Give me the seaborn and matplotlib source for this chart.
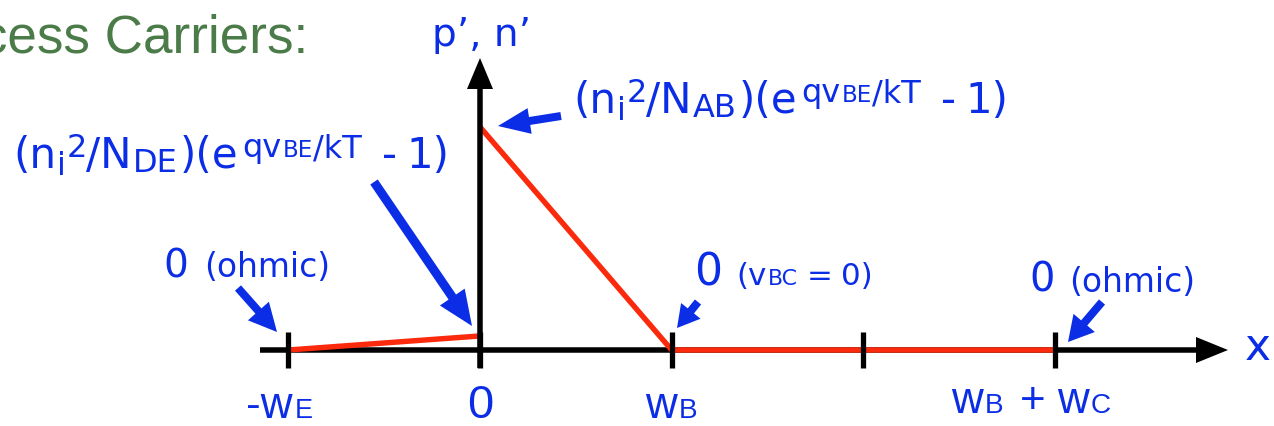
import matplotlib
matplotlib.use("Agg")
import matplotlib.pyplot as plt
import matplotlib.transforms as mtransforms
from matplotlib.patches import FancyArrowPatch
import pandas as pd
import seaborn as sns

# ---- data: excess minority carrier profile across emitter / base / collector ----
x_emitter = [-1.0, 0.0]          # -wE .. 0
p_emitter = [0.0, 0.063]         # p'(x) in the emitter
x_base = [0.0, 1.0, 3.0]         # 0 .. wB .. wB + wC
n_base = [1.0, 0.0, 0.0]         # n'(x) in base, then collector
tick_pos = [-1, 0, 1, 2, 3]

sns.set_theme(style="white")
plt.rcParams["font.family"] = ["Liberation Sans", "DejaVu Sans"]
WIDE = ["DejaVu Sans"]
NARROW = ["Liberation Sans", "DejaVu Sans"]

BLUE = "#0b2de6"
RED = "#fb2a0c"
GREEN = "#4b7b49"

W, H = 1274, 426
fig = plt.figure(figsize=(W / 100, H / 100), dpi=100)
ax = fig.add_axes([0, 0, 1, 1])

# pixel <-> data helpers (origin of the diagram and unit lengths)
X0, Y0 = 480.0, 350.0
SX, SY = 191.67, 223.0


def dx(px):
    return (px - X0) / SX


def dy(py):
    return (Y0 - py) / SY


ax.set_xlim(dx(0), dx(W))
ax.set_ylim(dy(H), dy(0))
ax.axis("off")


def arrow(p0, p1, tail, head_w, head_l, color, z):
    a = FancyArrowPatch((dx(p0[0]), dy(p0[1])), (dx(p1[0]), dy(p1[1])),
                        arrowstyle=f"simple,tail_width={tail * 0.72},"
                                   f"head_width={head_w * 0.72},head_length={head_l * 0.72}",
                        mutation_scale=1, color=color, lw=0,
                        shrinkA=0, shrinkB=0, zorder=z)
    ax.add_patch(a)


# ---- axes drawn as arrows, carrier profile, ticks ----
arrow((260, Y0), (1228, Y0), 5.5, 26, 32, "black", 1.5)
arrow((X0, 368), (X0, 58), 5.5, 26, 31, "black", 3)

df_e = pd.DataFrame({"x": x_emitter, "c": p_emitter})
df_b = pd.DataFrame({"x": x_base, "c": n_base})
for df in (df_e, df_b):
    sns.lineplot(data=df, x="x", y="c", color=RED, lw=3.9, ax=ax, sort=False,
                 estimator=None, zorder=2, solid_capstyle="butt")

ax.vlines(tick_pos, dy(368), dy(332), colors="black", lw=3.8, zorder=3)

# ---- rich text built from pieces: (text, size_px, rise_px, gap_px) ----
renderer = fig.canvas.get_renderer()


def rich(x_px, y_px, pieces, family=WIDE, color=BLUE):
    offset = 0.0
    for s, size_px, rise, gap in pieces:
        offset += gap
        tr = mtransforms.offset_copy(ax.transData, fig=fig, x=offset, y=rise, units="dots")
        t = ax.text(dx(x_px), dy(y_px), s, fontsize=size_px * 0.72, color=color,
                    family=family, transform=tr, ha="left", va="baseline", zorder=5)
        offset += t.get_window_extent(renderer).width


def formula(sub):
    M, S, T = 42, 32, 23
    return [("(n", M, 0, 0), ("i", S, -7, 1), ("2", S, 11, 1), ("/N", M, 0, -1),
            (sub, S, -4, 1), (")(e", M, 0, 2), ("qv", S, 11, 4), ("BE", T, 11, 1),
            ("/kT", S, 11, 0), ("-", M, 0, 20), ("1)", M, 0, 10)]


# title fragment and axis names
ax.text(dx(308), dy(52), "Excess Carriers:", fontsize=53 * 0.72, color=GREEN,
        family=NARROW, ha="right", va="baseline")
rich(432, 46, [("p\u2019, n\u2019", 39, 0, 0)])
rich(1245, 360, [("x", 44, 0, 0)])

# boundary-value annotations
rich(573, 113, formula("AB"))
rich(13, 168, formula("DE"))
rich(163, 277, [("0", 39, 0, 0), ("(ohmic)", 33, 0, 16)])
rich(694, 285, [("0", 44, 0, 0), ("(v", 31, 0, 14), ("BC", 22, 0, 1), ("=", 31, 0, 9),
                ("0)", 31, 0, 9)])
rich(1029, 292, [("0", 40, 0, 0), ("(ohmic)", 33, 0, 15)])

arrow((374, 182), (472, 326), 9, 30, 35, BLUE, 4)
arrow((561, 116), (498, 126), 8, 26, 32, BLUE, 4)
arrow((238, 288), (277, 332), 8, 28, 28, BLUE, 4)
arrow((698, 302), (677, 328), 8, 25, 22, BLUE, 4)
arrow((1102, 302), (1068, 342), 8, 28, 25, BLUE, 4)

# tick labels
rich(246, 418, [("-w", 44, 0, 0), ("E", 27, 0, 2)], family=NARROW)
rich(467, 418, [("0", 47, 0, 0)], family=NARROW)
rich(645, 418, [("w", 44, 0, 0), ("B", 28, 0, 2)], family=NARROW)
rich(951, 413, [("w", 44, 0, 0), ("B", 28, 0, 2), ("+", 44, 0, 16),
                ("w", 44, 0, 12), ("C", 28, 0, 2)], family=NARROW)

fig.savefig("out.png", dpi=100)
